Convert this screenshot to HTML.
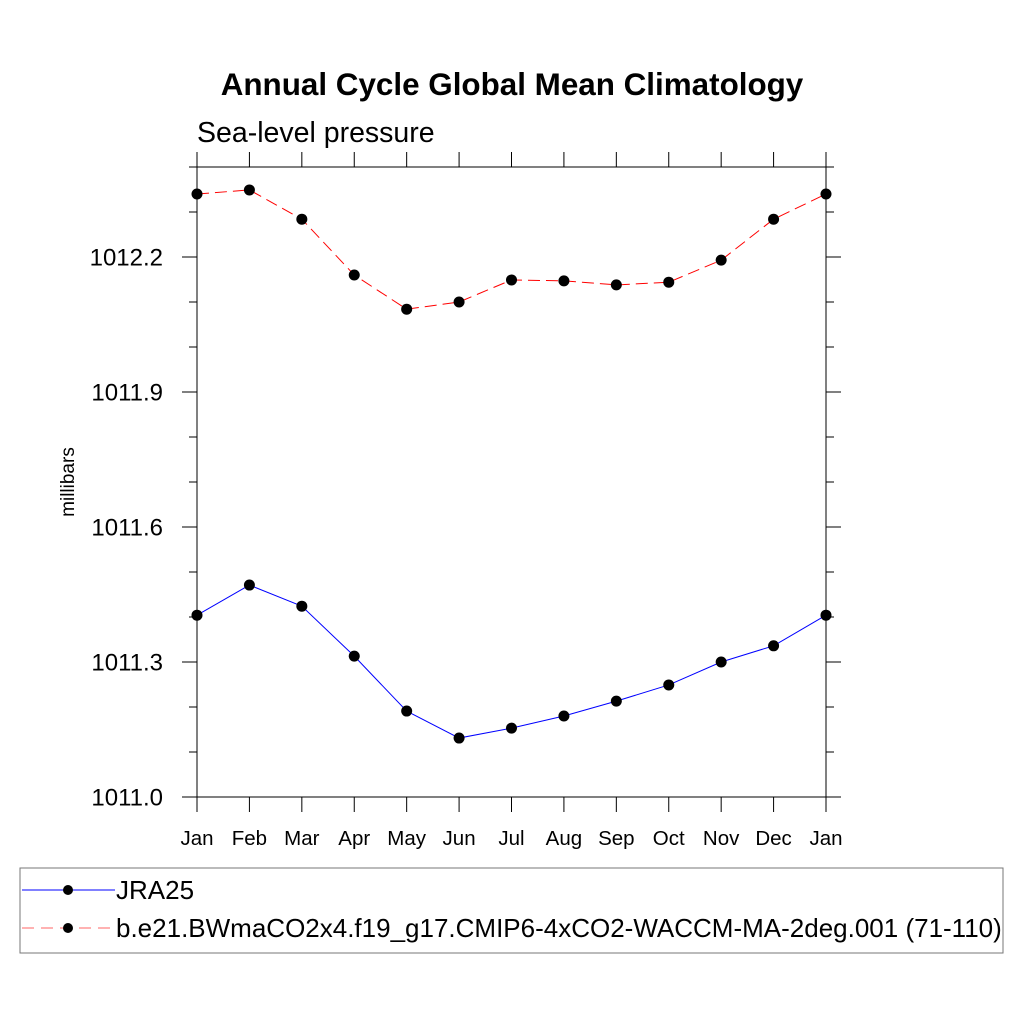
<!DOCTYPE html>
<html><head><meta charset="utf-8"><style>
body{margin:0;background:#fff}
svg text{font-family:"Liberation Sans",Arial,sans-serif}
</style></head><body>
<svg id="chart" width="1024" height="1024" viewBox="0 0 1024 1024">
<rect width="1024" height="1024" fill="#fff"/>
<text x="512" y="95" text-anchor="middle" font-size="31.4" font-weight="bold">Annual Cycle Global Mean Climatology</text>
<text x="197" y="142" font-size="28.5">Sea-level pressure</text>
<text transform="translate(74,482) rotate(-90)" text-anchor="middle" font-size="19">millibars</text>
<g id="axes"></g>
<g id="series"></g>
<rect x="20" y="868" width="983" height="85" fill="none" stroke="#777" stroke-width="1"/>
<g>
<line x1="22" y1="890" x2="115" y2="890" stroke="#00f" stroke-width="1"/>
<circle cx="68" cy="890" r="5" fill="#000"/>
<text x="116" y="899" font-size="26">JRA25</text>
</g>
<g>
<line x1="22" y1="928" x2="115" y2="928" stroke="#f66" stroke-width="1" stroke-dasharray="12,7"/>
<circle cx="68" cy="928" r="5" fill="#000"/>
<text x="116" y="937" font-size="26">b.e21.BWmaCO2x4.f19_g17.CMIP6-4xCO2-WACCM-MA-2deg.001 (71-110)</text>
</g>
</svg>
<script>
const months=["Jan","Feb","Mar","Apr","May","Jun","Jul","Aug","Sep","Oct","Nov","Dec","Jan"];
const jra25=[1011.404,1011.471,1011.424,1011.313,1011.191,1011.131,1011.153,1011.180,1011.213,1011.249,1011.300,1011.336,1011.404];
const model=[1012.340,1012.349,1012.284,1012.160,1012.084,1012.100,1012.149,1012.147,1012.138,1012.144,1012.193,1012.284,1012.340];
const yTicks=[1011.0,1011.3,1011.6,1011.9,1012.2];
const yMin=1011.0,yMax=1012.4;
const L=197,R=826,T=167,B=797;
const NS="http://www.w3.org/2000/svg";
const xs=i=>L+(R-L)*i/(months.length-1);
const ys=v=>B-(v-yMin)/(yMax-yMin)*(B-T);
function mk(tag,attrs,parent){const e=document.createElementNS(NS,tag);for(const k in attrs)e.setAttribute(k,attrs[k]);parent.appendChild(e);return e;}
const ax=document.getElementById('axes');
const frame=mk('rect',{x:L,y:T,width:R-L,height:B-T,fill:'none',stroke:'#000','stroke-width':1},ax);


months.forEach((m,i)=>{
  const x=xs(i);
  mk('line',{x1:x,y1:B,x2:x,y2:B+15,stroke:'#000'},ax);
  mk('line',{x1:x,y1:T,x2:x,y2:T-15,stroke:'#000'},ax);
  const t=mk('text',{x:x,y:B+48,'text-anchor':'middle','font-size':20.5},ax);
  t.textContent=m;
  
  
});
for(let v=yMin;v<=yMax+1e-9;v+=0.1){
  const y=ys(v);
  const major=yTicks.some(t=>Math.abs(t-v)<1e-6);
  const len=major?15:8;
  mk('line',{x1:L,y1:y,x2:L-len,y2:y,stroke:'#000'},ax);
  mk('line',{x1:R,y1:y,x2:R+len,y2:y,stroke:'#000'},ax);
}
yTicks.forEach(v=>{
  const t=mk('text',{x:L-34,y:ys(v)+8.5,'text-anchor':'end','font-size':24},ax);
  t.textContent=v.toFixed(1);
  
  
});
const sg=document.getElementById('series');
function series(data,color,dash,name){
  const g=mk('g',{},sg);
  
  
  const p=mk('polyline',{points:data.map((v,i)=>xs(i)+','+ys(v)).join(' '),fill:'none',stroke:color,'stroke-width':1},g);
  if(dash)p.setAttribute('stroke-dasharray',dash);
  data.forEach((v,i)=>{
    const c=mk('circle',{cx:xs(i),cy:ys(v),r:5.5,fill:'#000'},g);
    
    
  });
}
series(jra25,'#00f',null,'jra25-line');
series(model,'#f00','12,6','model-line');
</script>
</body></html>
